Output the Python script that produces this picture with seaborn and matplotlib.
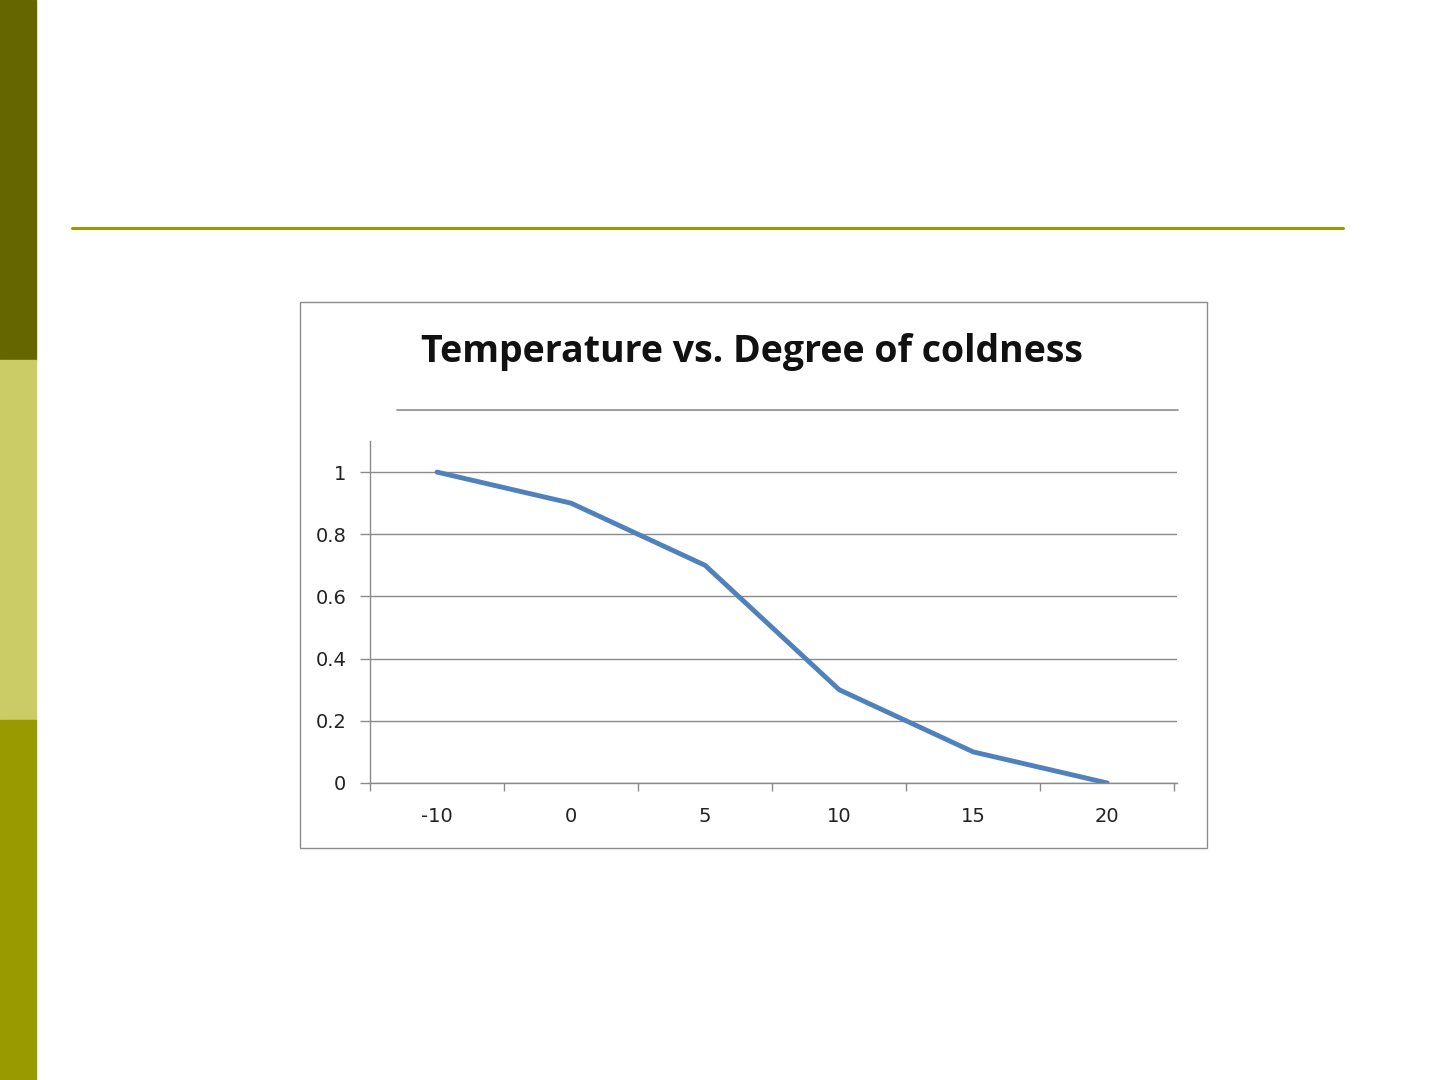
"""Temperature vs. degree of coldness, slide-style line chart"""

import pandas as pd
import matplotlib.pyplot as plt
from matplotlib.patches import Rectangle
from matplotlib.lines import Line2D
import seaborn as sns

temperature = ["-10", "0", "5", "10", "15", "20"]
coldness = [1.0, 0.9, 0.7, 0.3, 0.1, 0.0]
y_ticks = [0, 0.2, 0.4, 0.6, 0.8, 1]
y_labels = ["0", "0.2", "0.4", "0.6", "0.8", "1"]

df = pd.DataFrame({"Temperature": temperature, "Coldness": coldness})

sns.set_style("white")
plt.rcParams["font.family"] = ["DejaVu Sans"]

W, H = 1440, 1080
fig = plt.figure(figsize=(14.4, 10.8), dpi=100)
fig.patch.set_facecolor("white")


def fx(px):
    return px / W


def fy(py):
    return 1 - py / H


# --- slide decoration: left bar in three tones + rule under header ---
for y0, y1, col in [(0, 360, "#666600"), (360, 720, "#CCCC66"), (720, 1080, "#999900")]:
    fig.patches.append(Rectangle((0, fy(y1)), fx(36), (y1 - y0) / H,
                                 transform=fig.transFigure, color=col, zorder=0))
fig.lines.append(Line2D([fx(72), fx(1343)], [fy(228), fy(228)], transform=fig.transFigure,
                        color="#999900", lw=2.2))

# chart frame and title underline
fig.patches.append(Rectangle((fx(300), fy(848)), fx(1207 - 300), (848 - 302) / H,
                             transform=fig.transFigure, fill=False, ec="#8c8c8c", lw=1.0))
fig.lines.append(Line2D([fx(397), fx(1178)], [fy(410), fy(410)], transform=fig.transFigure,
                        color="#8c8c8c", lw=1.2))
fig.text(fx(752), fy(352), "Temperature vs. Degree of coldness", ha="center", va="center",
         fontsize=27, fontweight="bold", family="Open Sans", color="#111111")

# --- plot area ---
ax = fig.add_axes([fx(370), fy(783), fx(1177 - 370), (783 - 441) / H])
sns.pointplot(data=df, x="Temperature", y="Coldness", order=temperature, ax=ax,
              color="#4F81BD", marker="", linestyle="-", linewidth=3.5, errorbar=None)

ax.set_xlim(-0.5, 5.52)
ax.set_ylim(0, 1.1)
ax.set_yticks(y_ticks)
ax.set_yticklabels(y_labels)
ax.set_xticks(range(len(temperature)))
ax.set_xticklabels(temperature)
ax.set_xlabel("")
ax.set_ylabel("")
ax.grid(axis="y", color="#8a8a8a", lw=1.0)
ax.set_axisbelow(True)

for side in ["top", "right"]:
    ax.spines[side].set_visible(False)
for side in ["left", "bottom"]:
    ax.spines[side].set_color("#8a8a8a")
    ax.spines[side].set_linewidth(1.0)

# tick marks between categories like Excel
ax.set_xticks([i - 0.5 for i in range(len(temperature) + 1)], minor=True)
ax.tick_params(axis="x", which="major", bottom=False, length=0, pad=17, labelsize=14,
               colors="#222222")
ax.tick_params(axis="x", which="minor", bottom=True, length=6, width=1.0,
               color="#8a8a8a", direction="out")
ax.tick_params(axis="y", left=True, length=7, width=1.0, color="#8a8a8a", direction="out",
               pad=10, labelsize=14, labelcolor="#222222")

fig.savefig("out.png", dpi=100)
